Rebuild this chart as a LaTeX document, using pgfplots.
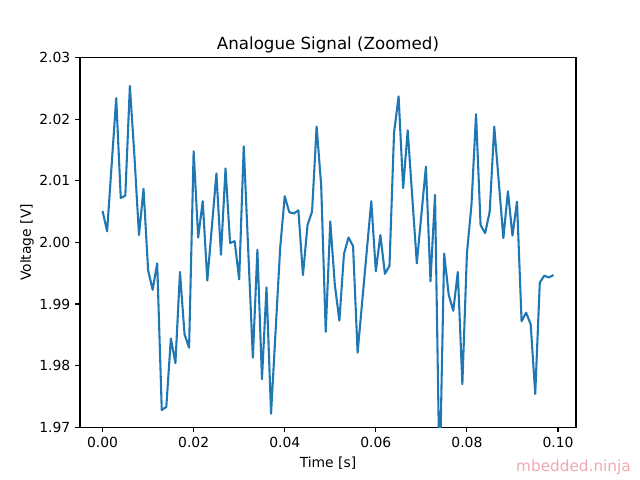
\documentclass[border=0pt]{standalone}
\usepackage{pgfplots}
\pgfplotsset{compat=1.18}
\usepackage{fontspec}
\setmainfont{DejaVu Sans}
\definecolor{mplblue}{HTML}{1F77B4}
\definecolor{wm}{RGB}{240,168,176}
\begin{document}
\begin{tikzpicture}
\path (0,0) rectangle (460.8pt,345.6pt);
\begin{axis}[
  at={(57.6pt,38.016pt)}, anchor=south west,
  scale only axis, width=357.12pt, height=266.112pt,
  xmin=-0.00495, xmax=0.10395, ymin=1.97, ymax=2.03,
  xtick={0,0.02,0.04,0.06,0.08,0.10},
  ytick={1.97,1.98,1.99,2.00,2.01,2.02,2.03},
  scaled x ticks=false, scaled y ticks=false,
  xticklabel style={/pgf/number format/.cd, fixed, fixed zerofill, precision=2, assume math mode=true},
  yticklabel style={/pgf/number format/.cd, fixed, fixed zerofill, precision=2, assume math mode=true},
  tick label style={font=\fontsize{10}{12}\selectfont},
  tick align=outside, major tick length=3.5pt,
  xtick pos=bottom, ytick pos=left,
  every tick/.style={black, line width=0.8pt},
  axis line style={line width=0.8pt},
  title={Analogue Signal (Zoomed)},
  title style={font=\fontsize{12}{14}\selectfont, anchor=base, at={(axis description cs:0.5,1)}},
  xlabel={Time [s]},
  xlabel style={font=\fontsize{10}{12}\selectfont, anchor=base, at={(axis description cs:0.5,-0.1077)}},
  ylabel={Voltage [V]},
  ylabel style={font=\fontsize{10}{12}\selectfont, anchor=center, at={(axis description cs:-0.107,0.5)}},
  clip=true,
]
\addplot[mplblue, line width=1.5pt, line join=round, mark=none] table[row sep=\\] {
x y\\
0.000 2.0051\\ 0.001 2.0018\\ 0.002 2.0126\\ 0.003 2.0234\\ 0.004 2.0072\\
0.005 2.0076\\ 0.006 2.0254\\ 0.007 2.0140\\ 0.008 2.0012\\ 0.009 2.0087\\
0.010 1.9955\\ 0.011 1.9923\\ 0.012 1.9966\\ 0.013 1.9728\\ 0.014 1.9733\\
0.015 1.9844\\ 0.016 1.9804\\ 0.017 1.9952\\ 0.018 1.9851\\ 0.019 1.9829\\
0.020 2.0148\\ 0.021 2.0008\\ 0.022 2.0067\\ 0.023 1.9938\\ 0.024 2.0025\\
0.025 2.0112\\ 0.026 1.9980\\ 0.027 2.0120\\ 0.028 1.9999\\ 0.029 2.0002\\
0.030 1.9940\\ 0.031 2.0156\\ 0.032 1.9985\\ 0.033 1.9813\\ 0.034 1.9988\\
0.035 1.9778\\ 0.036 1.9927\\ 0.037 1.9722\\ 0.038 1.9857\\ 0.039 1.9991\\
0.040 2.0075\\ 0.041 2.0049\\ 0.042 2.0047\\ 0.043 2.0052\\ 0.044 1.9947\\
0.045 2.0028\\ 0.046 2.0050\\ 0.047 2.0188\\ 0.048 2.0093\\ 0.049 1.9855\\
0.050 2.0034\\ 0.051 1.9931\\ 0.052 1.9873\\ 0.053 1.9981\\ 0.054 2.0008\\
0.055 1.9994\\ 0.056 1.9821\\ 0.057 1.9903\\ 0.058 1.9985\\ 0.059 2.0067\\
0.060 1.9953\\ 0.061 2.0012\\ 0.062 1.9949\\ 0.063 1.9962\\ 0.064 2.0178\\
0.065 2.0237\\ 0.066 2.0088\\ 0.067 2.0182\\ 0.068 2.0074\\ 0.069 1.9966\\
0.070 2.0045\\ 0.071 2.0123\\ 0.072 1.9937\\ 0.073 2.0077\\ 0.074 1.9610\\
0.075 1.9982\\ 0.076 1.9915\\ 0.077 1.9889\\ 0.078 1.9952\\ 0.079 1.9770\\
0.080 1.9982\\ 0.081 2.0061\\ 0.082 2.0208\\ 0.083 2.0028\\ 0.084 2.0015\\
0.085 2.0050\\ 0.086 2.0188\\ 0.087 2.0098\\ 0.088 2.0007\\ 0.089 2.0083\\
0.090 2.0011\\ 0.091 2.0066\\ 0.092 1.9872\\ 0.093 1.9886\\ 0.094 1.9867\\
0.095 1.9754\\ 0.096 1.9935\\ 0.097 1.9946\\ 0.098 1.9943\\ 0.099 1.9947\\
};
\end{axis}
\node[text=wm, font=\fontsize{11}{13}\selectfont, anchor=center, inner sep=0pt] at (412.9pt,9.4pt) {mbedded.ninja};
\end{tikzpicture}
\end{document}
